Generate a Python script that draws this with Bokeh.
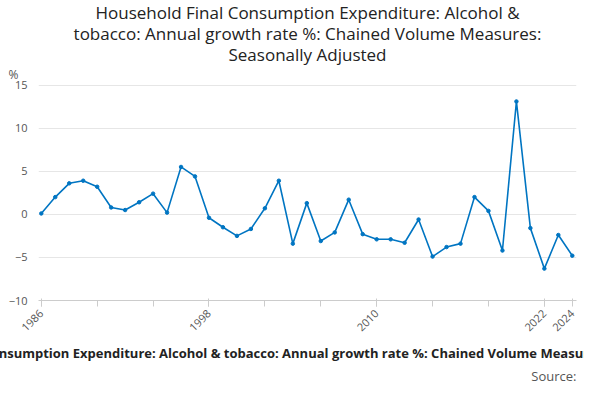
from bokeh.plotting import figure
from bokeh.models import FixedTicker, Title
from bokeh.embed import file_html
from bokeh.resources import INLINE

years = list(range(1986, 2025))
growth = [0.1, 2.0, 3.6, 3.9, 3.2, 0.8, 0.5, 1.4, 2.4, 0.2, 5.5, 4.4, -0.4, -1.5, -2.5,
          -1.7, 0.7, 3.9, -3.4, 1.3, -3.1, -2.1, 1.7, -2.3, -2.9, -2.9, -3.3, -0.6, -4.9,
          -3.8, -3.4, 2.0, 0.4, -4.2, 13.1, -1.6, -6.3, -2.4, -4.8]
x_ticks = [1986, 1998, 2010, 2022, 2024]
y_ticks = [-10, -5, 0, 5, 10, 15]

p = figure(width=584, height=384, output_backend="svg", toolbar_location=None,
           x_range=(1985.8, 2024.3), y_range=(-10, 15.3), min_border_left=38, min_border_right=8,
           min_border_bottom=0, min_border_top=0)
p.outline_line_color = None
p.add_layout(Title(text="%", align="left", text_font="Open Sans", text_font_size="12px",
                   text_font_style="normal", text_color="#555555", standoff=0, offset=-30), "above")
titles = ["Household Final Consumption Expenditure: Alcohol &",
          "tobacco: Annual growth rate %: Chained Volume Measures:",
          "Seasonally Adjusted"]
for t in reversed(titles):
    p.add_layout(Title(text=t, align="center", text_font="Open Sans", text_font_size="17px",
                       text_font_style="normal", text_color="#222222", standoff=-4,
                       text_line_height=1.0), "above")
p.add_layout(Title(text="Source:", align="right", text_font="Open Sans", text_font_size="13px",
                   text_font_style="normal", text_color="#555555", standoff=0), "below")
p.xaxis.axis_label = "Household Final Consumption Expenditure: Alcohol & tobacco: Annual growth rate %: Chained Volume Measures: Seasonally Adjusted"
p.xaxis.axis_label_text_font = "Open Sans"
p.xaxis.axis_label_text_font_style = "bold"
p.xaxis.axis_label_text_font_size = "13px"
p.xaxis.axis_label_text_color = "#222222"
p.xaxis.axis_label_standoff = 6
p.xaxis.ticker = FixedTicker(ticks=x_ticks, minor_ticks=list(range(1986, 2025, 4)))
p.xaxis.major_label_orientation = 0.785
p.yaxis.ticker = FixedTicker(ticks=y_ticks)
for ax in (p.xaxis, p.yaxis):
    ax.major_label_text_font = "Open Sans"
    ax.major_label_text_font_size = "11px"
    ax.major_label_text_color = "#555555"
p.yaxis.axis_line_color = None
p.yaxis.major_tick_line_color = None
p.yaxis.minor_tick_line_color = None
p.xaxis.axis_line_color = "#cccccc"
p.xaxis.major_tick_line_color = "#cccccc"
p.xaxis.minor_tick_line_color = "#cccccc"
p.xaxis.minor_tick_out = 6
p.xgrid.grid_line_color = None
p.ygrid.grid_line_color = "#e6e6e6"
p.line(years, growth, line_color="#0075c2", line_width=1.6)
p.scatter(years, growth, size=3.5, color="#0075c2")

open("out.html", "w").write(file_html(p, INLINE))
